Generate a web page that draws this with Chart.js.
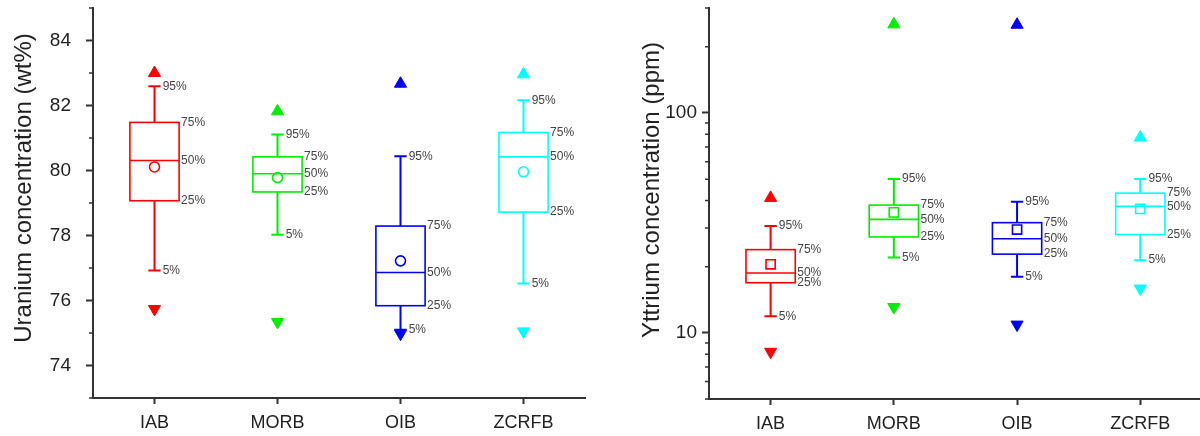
<!DOCTYPE html>
<html lang="en">
<head>
<meta charset="UTF-8" />
<title>Uranium and yttrium box plots</title>
<script src="https://cdn.jsdelivr.net/npm/chart.js@4.4.0/dist/chart.umd.min.js"></script>
<style>
  html, body { margin: 0; background: #fff; overflow: hidden; }
  .wrap { position: absolute; top: 0; height: 436px; }
</style>
</head>
<body>
<div class="wrap" style="left: 0; width: 600px"><canvas id="uChart"></canvas></div>
<div class="wrap" style="left: 600px; width: 610px"><canvas id="yChart"></canvas></div>
<script>
const categories = ["IAB", "MORB", "OIB", "ZCRFB"];
const colors = ["#ff0000", "#00ee00", "#0000ff", "#00ffff"];

// Uranium concentration (wt%)
const uP5 = [76.92, 78.02, 75.10, 76.52];
const uP25 = [79.07, 79.34, 75.84, 78.72];
const uP50 = [80.31, 79.90, 76.86, 80.42];
const uP75 = [81.48, 80.42, 78.29, 81.17];
const uP95 = [82.59, 81.11, 80.44, 82.16];
const uMean = [80.11, 79.78, 77.22, 79.96];
const uMax = [83.00, 81.82, 82.67, 82.96];
const uMin = [75.74, 75.34, 74.98, 75.05];
const uTicks = [74, 76, 78, 80, 82, 84];
const uMinorTicks = [73, 75, 77, 79, 81, 83, 85];

// Yttrium concentration (ppm)
const yP5 = [11.9, 22.0, 18.0, 21.4];
const yP25 = [16.9, 27.3, 22.8, 28.0];
const yP50 = [18.7, 32.8, 26.8, 37.6];
const yP75 = [23.9, 38.1, 31.7, 43.2];
const yP95 = [30.6, 50.1, 39.5, 50.1];
const yMean = [20.5, 35.3, 29.5, 36.6];
const yMax = [41.1, 253, 252, 77.3];
const yMin = [8.2, 13.1, 10.9, 15.9];
const yTicks = [10, 100];
const yMinorTicks = [5, 6, 7, 8, 9, 20, 30, 40, 50, 60, 70, 80, 90, 200, 300];

const FONT = "'Liberation Sans', Arial, sans-serif";
const AXIS = "#333";

// box, whiskers and percent labels under the markers; minor ticks and title on top
function boxPlugin(s) {
  return {
    id: "boxes",
    beforeDatasetsDraw(chart) {
      const ctx = chart.ctx;
      const xs = chart.scales.x, ys = chart.scales.y;
      const half = Math.abs(xs.getPixelForValue(0.2) - xs.getPixelForValue(0));
      const cap = Math.abs(xs.getPixelForValue(0.05) - xs.getPixelForValue(0));
      ctx.save();
      categories.forEach((c, i) => {
        const cx = xs.getPixelForValue(i);
        const y5 = ys.getPixelForValue(s.p5[i]);
        const y25 = ys.getPixelForValue(s.p25[i]);
        const y50 = ys.getPixelForValue(s.p50[i]);
        const y75 = ys.getPixelForValue(s.p75[i]);
        const y95 = ys.getPixelForValue(s.p95[i]);
        ctx.strokeStyle = colors[i];
        ctx.lineWidth = 1.6;
        ctx.strokeRect(cx - half, y75, half * 2, y25 - y75);
        ctx.beginPath();
        ctx.moveTo(cx - half, y50);
        ctx.lineTo(cx + half, y50);
        ctx.stroke();
        ctx.lineWidth = 2;
        ctx.beginPath();
        ctx.moveTo(cx, y95); ctx.lineTo(cx, y75);
        ctx.moveTo(cx, y25); ctx.lineTo(cx, y5);
        ctx.moveTo(cx - cap, y95); ctx.lineTo(cx + cap, y95);
        ctx.moveTo(cx - cap, y5); ctx.lineTo(cx + cap, y5);
        ctx.stroke();

        ctx.fillStyle = "#444";
        ctx.font = "12px " + FONT;
        ctx.textAlign = "left";
        ctx.textBaseline = "middle";
        ctx.fillText("95%", cx + cap + 2, y95);
        ctx.fillText("5%", cx + cap + 2, y5);
        ctx.fillText("75%", cx + half + 2, y75);
        ctx.fillText("50%", cx + half + 2, y50);
        ctx.fillText("25%", cx + half + 2, y25);
      });
      ctx.restore();
    },
    afterDraw(chart) {
      const ctx = chart.ctx;
      const ys = chart.scales.y;
      const left = chart.chartArea.left;
      ctx.save();
      ctx.strokeStyle = AXIS;
      ctx.lineWidth = 1.5;
      ctx.beginPath();
      s.minor.forEach(v => {
        const y = ys.getPixelForValue(v);
        ctx.moveTo(left - 4, y);
        ctx.lineTo(left, y);
      });
      ctx.stroke();
      ctx.translate(s.titleX, s.titleY);
      ctx.rotate(-Math.PI / 2);
      ctx.fillStyle = "#222";
      ctx.font = "24px " + FONT;
      ctx.textAlign = "center";
      ctx.textBaseline = "middle";
      ctx.fillText(s.title, 0, 0);
      ctx.restore();
    }
  };
}

function makeChart(id, st) {
  const pts = arr => arr.map((v, i) => ({ x: i, y: v }));
  return new Chart(document.getElementById(id), {
    type: "scatter",
    data: {
      datasets: [
        {
          data: pts(st.upper),
          pointStyle: "triangle",
          pointRadius: 7,
          pointBackgroundColor: colors,
          pointBorderColor: colors,
          pointBorderWidth: 1
        },
        {
          data: pts(st.lower),
          pointStyle: "triangle",
          pointRotation: 180,
          pointRadius: 7,
          pointBackgroundColor: colors,
          pointBorderColor: colors,
          pointBorderWidth: 1
        },
        {
          data: pts(st.mean),
          pointStyle: st.meanStyle,
          pointRadius: st.meanStyle === "rect" ? 6.5 : 5,
          pointBackgroundColor: "rgba(255,255,255,0)",
          pointBorderColor: colors,
          pointBorderWidth: 1.6
        }
      ]
    },
    options: {
      responsive: true,
      maintainAspectRatio: false,
      animation: false,
      layout: { padding: { top: 8, right: st.padRight, left: 0, bottom: 0 } },
      plugins: {
        legend: { display: false },
        tooltip: { enabled: false }
      },
      scales: {
        x: {
          type: "linear",
          min: -0.5,
          max: 3.5,
          afterBuildTicks: s => { s.ticks = categories.map((c, i) => ({ value: i })); },
          afterFit: s => { s.height = st.xHeight; },
          ticks: {
            autoSkip: false,
            maxRotation: 0,
            padding: 8,
            color: "#222",
            font: { family: FONT, size: 18 },
            callback: v => categories[v]
          },
          grid: { drawOnChartArea: false, tickLength: 6, tickWidth: 2, tickColor: AXIS },
          border: { color: AXIS, width: 2 }
        },
        y: {
          type: st.type,
          min: st.axisMin,
          max: st.axisMax,
          afterBuildTicks: s => { s.ticks = st.ticks.map(v => ({ value: v })); },
          afterFit: s => {
            s.width = st.yWidth;
            s.paddingTop = 0; s.paddingBottom = 0;
          },
          ticks: {
            padding: st.tickPad,
            color: "#222",
            font: { family: FONT, size: 19 },
            callback: v => String(v)
          },
          grid: { drawOnChartArea: false, tickLength: 7, tickWidth: 2, tickColor: AXIS },
          border: { color: AXIS, width: 2 }
        }
      }
    },
    plugins: [boxPlugin(st)]
  });
}

makeChart("uChart", {
  p5: uP5, p25: uP25, p50: uP50, p75: uP75, p95: uP95,
  mean: uMean, upper: uMax, lower: uMin,
  ticks: uTicks, minor: uMinorTicks,
  type: "linear", axisMin: 73, axisMax: 85,
  meanStyle: "circle",
  title: "Uranium concentration (wt%)", titleX: 24, titleY: 188,
  yWidth: 93, xHeight: 38, padRight: 15, tickPad: 15
});

makeChart("yChart", {
  p5: yP5, p25: yP25, p50: yP50, p75: yP75, p95: yP95,
  mean: yMean, upper: yMax, lower: yMin,
  ticks: yTicks, minor: yMinorTicks,
  type: "logarithmic", axisMin: 5, axisMax: 300,
  meanStyle: "rect",
  title: "Yttrium concentration (ppm)", titleX: 52, titleY: 190,
  yWidth: 109, xHeight: 37, padRight: 0, tickPad: 5
});
</script>
</body>
</html>
